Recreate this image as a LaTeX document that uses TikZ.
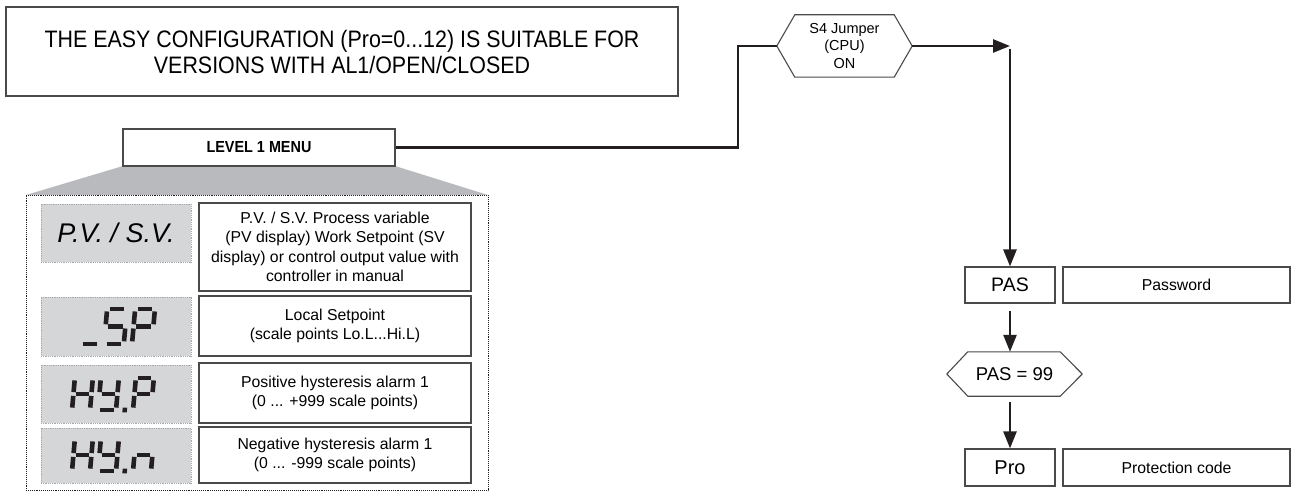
\documentclass[tikz,border=0pt]{standalone}
\usepackage{fontspec}
\setmainfont{Liberation Sans}
\newfontfamily\condfont[FakeStretch=0.9]{Liberation Sans}
\usetikzlibrary{arrows.meta,calc}
\definecolor{ink}{HTML}{231F20}
\definecolor{trapgray}{HTML}{B9BABD}
\definecolor{dispgray}{HTML}{D5D6D8}
\definecolor{dispedge}{HTML}{A8A9AC}
\definecolor{boxedge}{HTML}{4A4A4A}
\tikzset{
  box/.style={draw=boxedge, line width=1.1pt, fill=white, inner sep=0pt, align=center},
  desc/.style={box, font=\fontsize{15.8}{19.3}\selectfont},
  disp/.style={fill=dispgray, draw=dispedge, densely dotted, line width=0.8pt, inner sep=0pt},
  conn/.style={draw=ink, line width=2.5pt, line join=miter},
  arr/.style={conn, -{Triangle[length=17pt,width=13pt]}},
  seg/.style={draw=ink, line width=4.6pt, line cap=butt},
  hexline/.style={draw=boxedge, line width=1.1pt, line join=miter},
  hexnode/.style={inner sep=0pt, align=center},
}
\newcommand\SgA{\draw[seg] (2.4,32)--(15.6,32);}
\newcommand\SgB{\draw[seg] (18,17.9)--(18,29.6);}
\newcommand\SgC{\draw[seg] (18,2.4)--(18,14.1);}
\newcommand\SgD{\draw[seg] (2.4,0)--(15.6,0);}
\newcommand\SgE{\draw[seg] (0,2.4)--(0,14.1);}
\newcommand\SgF{\draw[seg] (0,17.9)--(0,29.6);}
\newcommand\SgG{\draw[seg] (2.4,16)--(15.6,16);}
\newcommand\SgDot{\fill[ink] (-0.5,-2.3) rectangle (4,2.3);}
\newcommand\segglyph[3][1]{\begin{scope}[shift={(#2)}, scale=#1, yscale=-1, xslant=-0.09]#3\end{scope}}
\begin{document}
\begin{tikzpicture}[x=1pt,y=-1pt]
\useasboundingbox (0,0) rectangle (1292,497);

% note box
\node[box, minimum width=672pt, minimum height=89pt, font=\condfont\fontsize{23.8}{26}\selectfont] (note) at (342,51.5)
  {THE EASY CONFIGURATION (Pro=0...12) IS SUITABLE FOR\\VERSIONS WITH AL1/OPEN/CLOSED};

% level 1 menu + expansion
\fill[trapgray] (123,166) -- (395,166) -- (488,195) -- (26,195) -- cycle;
\node[box, minimum width=272pt, minimum height=37pt, font=\condfont\fontsize{16}{18}\selectfont\bfseries] (lvl) at (259,147.5) {LEVEL 1 MENU};
\node[draw=ink, densely dotted, line width=0.9pt, minimum width=462pt, minimum height=295pt, inner sep=0pt] (menu) at (257,342.5) {};

% display boxes
\node[disp, minimum width=150pt, minimum height=58pt, font=\fontsize{27}{30}\selectfont\itshape] (g1) at (116,233) {P.V. / S.V.};
\node[disp, minimum width=150pt, minimum height=59pt] (g2) at (116,326.5) {};
\node[disp, minimum width=150pt, minimum height=58pt] (g3) at (116,394) {};
\node[disp, minimum width=150pt, minimum height=55pt] (g4) at (116,455.5) {};

% seven-segment glyphs
\segglyph[1.1]{80,344}{\SgD}
\segglyph[1.1]{104,344}{\SgA\SgF\SgG\SgC\SgD}
\segglyph[1.1]{132,344}{\SgA\SgB\SgF\SgG\SgE}

\segglyph{72,410}{\SgB\SgC\SgE\SgF\SgG}
\segglyph{98,410}{\SgB\SgC\SgD\SgF\SgG}
\segglyph{123,410}{\SgDot}
\segglyph{133,410}{\SgA\SgB\SgF\SgG\SgE}

\segglyph{72,471}{\SgB\SgC\SgE\SgF\SgG}
\segglyph{98,471}{\SgB\SgC\SgD\SgF\SgG}
\segglyph{123,471}{\SgDot}
\segglyph{133,471}{\SgC\SgE\SgG}

% description boxes
\node[desc, minimum width=272pt, minimum height=88pt] (d1) at (335,247)
  {P.V. / S.V. Process variable\\(PV display) Work Setpoint (SV\\display) or control output value with\\controller in manual};
\node[desc, minimum width=272pt, minimum height=60pt] (d2) at (335,326) {Local Setpoint\\(scale points Lo.L...Hi.L)};
\node[desc, minimum width=272pt, minimum height=60pt] (d3) at (335,393) {Positive hysteresis alarm 1\\(0 ... +999 scale points)};
\node[desc, minimum width=272pt, minimum height=56pt] (d4) at (335,455) {Negative hysteresis alarm 1\\(0 ... -999 scale points)};

% S4 jumper hexagon
\node[hexnode, minimum width=135pt, minimum height=62pt, font=\fontsize{14.5}{17.5}\selectfont] (s4) at (844.5,46) {S4 Jumper\\(CPU)\\ON};
\draw[hexline] (s4.west) -- ([xshift=18pt]s4.north west) -- ([xshift=-18pt]s4.north east) -- (s4.east)
  -- ([xshift=-18pt]s4.south east) -- ([xshift=18pt]s4.south west) -- cycle;

% right column
\node[box, minimum width=90pt, minimum height=36pt, font=\fontsize{19.5}{22}\selectfont] (pas) at (1010,285) {PAS};
\node[desc, minimum width=227pt, minimum height=36pt] (pasd) at (1176.5,285) {Password};
\node[hexnode, minimum width=135pt, minimum height=44pt, font=\fontsize{18.5}{22}\selectfont] (chk) at (1014.5,374) {PAS = 99};
\draw[hexline] (chk.west) -- ([xshift=21pt]chk.north west) -- ([xshift=-22pt]chk.north east) -- (chk.east)
  -- ([xshift=-22pt]chk.south east) -- ([xshift=21pt]chk.south west) -- cycle;
\node[box, minimum width=90pt, minimum height=37pt, font=\fontsize{20}{22}\selectfont] (pro) at (1010,467.5) {Pro};
\node[desc, minimum width=227pt, minimum height=37pt] (prod) at (1176.5,467.5) {Protection code};

% connectors
\coordinate (bend) at (738,147.5);
\coordinate (corner) at (1010,46);
\draw[conn] (lvl.east) -- (bend) |- (s4.west);
\draw[arr] (s4.east) -- (corner);
\draw[arr, shorten <=3pt] (corner) -- (pas.north);
\draw[arr, shorten <=7pt] (pas.south) -- (pas.south |- chk.north);
\draw[arr, shorten <=6pt] (pas.south |- chk.south) -- (pro.north);
\end{tikzpicture}
\end{document}
